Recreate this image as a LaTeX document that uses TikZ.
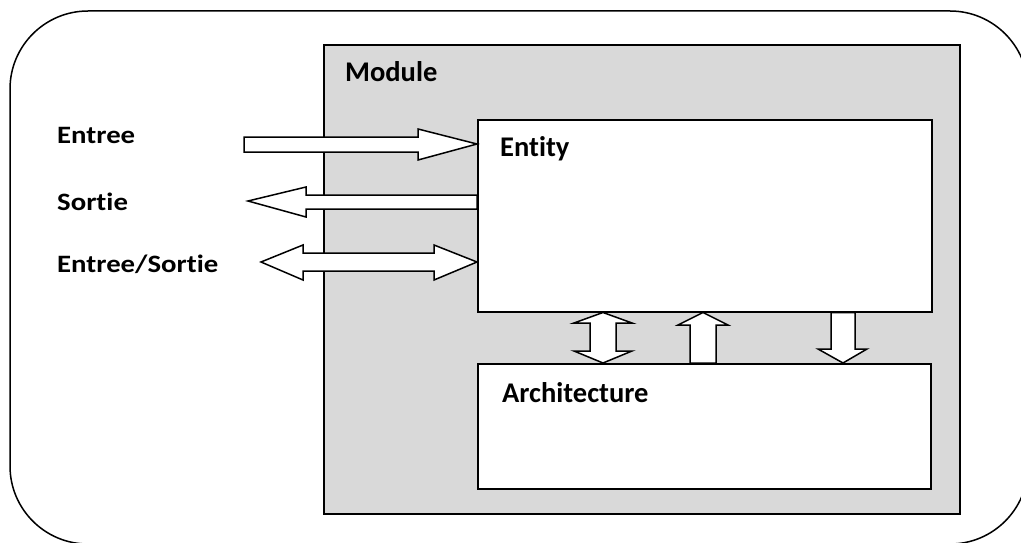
\documentclass[tikz,border=0pt]{standalone}
\usepackage{fontspec}
\setmainfont{Carlito}[RawFeature={-liga;-clig;-dlig}]
\newfontfamily\sidefont{Carlito}[FakeStretch=1.15, RawFeature={-liga;-clig;-dlig}]
\definecolor{modgray}{HTML}{D9D9D9}
\tikzset{
  outline/.style={draw=black, line width=1.5pt},
  box/.style={outline, fill=white},
  blockarrow/.style={outline, fill=white, line join=miter},
  title/.style={anchor=base west, inner sep=0pt, font=\fontsize{28.5}{30}\selectfont\bfseries},
  sidelabel/.style={anchor=base west, inner sep=0pt, font=\sidefont\fontsize{25}{27}\selectfont\bfseries},
}
\begin{document}
\begin{tikzpicture}[x=1pt,y=-1pt]
  \useasboundingbox (0,0) rectangle (1021,543);
  \clip (0,0) rectangle (1021,543);
  % outer frame
  \draw[outline, rounded corners=78pt] (10,11) rectangle (1028,544);
  % module and its two parts
  \draw[outline, fill=modgray] (324,45) rectangle (960,514);
  \node[box, minimum width=454pt, minimum height=192pt, anchor=north west, inner sep=0pt] (ent) at (477,119) {};
  \node[box, minimum width=453pt, minimum height=125pt, anchor=north west, inner sep=0pt] (arch) at (477,363) {};
  \node[title] (modlbl) at (345,82) {Module};
  \node[title] (entlbl) at (500,157) {Entity};
  \node[title] (archlbl) at (502,402) {Architecture};
  % port labels
  \node[sidelabel] (in) at (57,143) {Entree};
  \node[sidelabel] (out) at (57,210) {Sortie};
  \node[sidelabel] (inout) at (57,272) {Entree/Sortie};
  % input port
  \draw[blockarrow] (244,137) -- (418,137) -- (418,129) -- (ent.west |- 0,144) -- (418,160) -- (418,152) -- (244,152) -- cycle;
  % output port
  \draw[blockarrow] (ent.west |- 0,195) -- (306,195) -- (306,187) -- (248,201) -- (306,217) -- (306,209) -- (ent.west |- 0,209) -- cycle;
  % bidirectional port
  \draw[blockarrow] (261,262) -- (303,245) -- (303,253) -- (434,253) -- (434,245) -- (ent.west |- 0,262) -- (434,280) -- (434,271) -- (303,271) -- (303,280) -- cycle;
  % links between entity and architecture
  \draw[blockarrow] (ent.south -| 603,0) -- (632,323) -- (616,323) -- (616,351) -- (632,351) -- (arch.north -| 603,0) -- (574,351) -- (590,351) -- (590,323) -- (574,323) -- cycle;
  \draw[blockarrow] (ent.south -| 703,0) -- (728,325) -- (716,325) -- (arch.north -| 716,0) -- (arch.north -| 690,0) -- (690,325) -- (678,325) -- cycle;
  \draw[blockarrow] (ent.south -| 831,0) -- (ent.south -| 855,0) -- (855,349) -- (867,349) -- (arch.north -| 843,0) -- (818,349) -- (831,349) -- cycle;
\end{tikzpicture}
\end{document}
